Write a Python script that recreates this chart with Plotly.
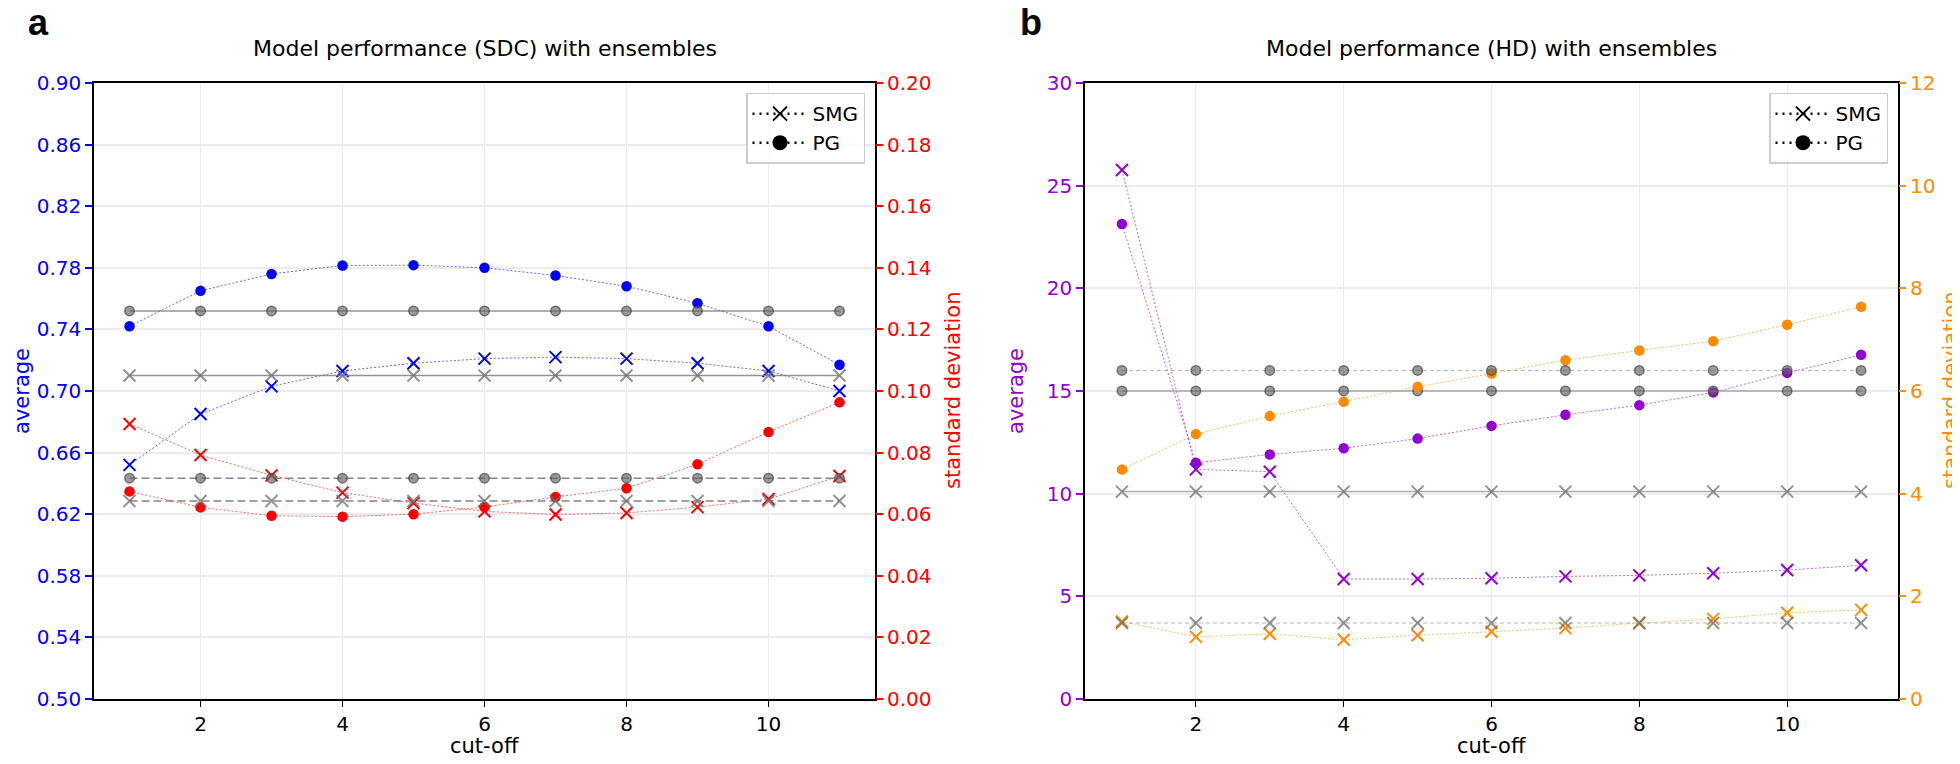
import plotly.graph_objects as go

# cut-off values (x axis, both panels)
cutoff = [1, 2, 3, 4, 5, 6, 7, 8, 9, 10, 11]

# panel a: SDC
sdc_pg_avg = [0.742, 0.765, 0.776, 0.7815, 0.7817, 0.780, 0.775, 0.768, 0.757, 0.742, 0.717]
sdc_smg_avg = [0.652, 0.685, 0.703, 0.713, 0.718, 0.721, 0.722, 0.721, 0.718, 0.713, 0.700]
sdc_pg_std = [0.0674, 0.0622, 0.0595, 0.0592, 0.0600, 0.0623, 0.0656, 0.0684, 0.0762, 0.0867, 0.0963]
sdc_smg_std = [0.0893, 0.0792, 0.0726, 0.0670, 0.0636, 0.0609, 0.0599, 0.0604, 0.0623, 0.0649, 0.0724]
sdc_ref_pg_avg = 0.752
sdc_ref_smg_avg = 0.710
sdc_ref_pg_std = 0.0717
sdc_ref_smg_std = 0.0643

# panel b: HD
hd_pg_avg = [23.13, 11.50, 11.91, 12.21, 12.68, 13.30, 13.84, 14.31, 14.93, 15.88, 16.76]
hd_smg_avg = [25.76, 11.18, 11.07, 5.84, 5.84, 5.88, 5.97, 6.02, 6.12, 6.28, 6.51]
hd_pg_std = [4.47, 5.16, 5.51, 5.79, 6.08, 6.34, 6.60, 6.79, 6.97, 7.29, 7.64]
hd_smg_std = [1.51, 1.21, 1.27, 1.155, 1.24, 1.31, 1.38, 1.48, 1.56, 1.68, 1.735]
hd_ref_pg_avg = 15.0
hd_ref_smg_avg = 10.1
hd_ref_pg_std = 6.4
hd_ref_smg_std = 1.48

FONT = "DejaVu Sans"
W, H = 1960, 764

fig = go.Figure()


def rgba(hexcol, a):
    h = hexcol.lstrip("#")
    r, g, b = int(h[0:2], 16), int(h[2:4], 16), int(h[4:6], 16)
    return f"rgba({r},{g},{b},{a})"


def series(x, y, col, sym, xa, ya):
    if sym == "circle":
        marker = dict(symbol="circle", size=10.5, color=col)
    else:
        marker = dict(symbol="x-thin", size=12, line=dict(color=col, width=2))
    fig.add_trace(go.Scatter(
        x=x, y=y, xaxis=xa, yaxis=ya, mode="lines+markers",
        line=dict(color=rgba(col, 0.6), width=1, dash="2px,2px"),
        marker=marker, showlegend=False, hoverinfo="x+y"
    ))


def ref(x, val, sym, dash, lcol, lw, xa, ya):
    if sym == "circle":
        marker = dict(symbol="circle", size=9.5, color="rgba(100,100,100,0.65)",
                      line=dict(color="rgba(70,70,70,0.7)", width=1.5))
    else:
        marker = dict(symbol="x-thin", size=12, line=dict(color="rgba(110,110,110,0.75)", width=2))
    fig.add_trace(go.Scatter(
        x=x, y=[val] * len(x), xaxis=xa, yaxis=ya, mode="lines+markers",
        line=dict(color=lcol, width=lw, dash=dash),
        marker=marker, showlegend=False, hoverinfo="y"
    ))


# panel a, average (left axis)
series(cutoff, sdc_pg_avg, "#0000ff", "circle", "x", "y")
series(cutoff, sdc_smg_avg, "#0000ff", "x", "x", "y")
ref(cutoff, sdc_ref_pg_avg, "circle", "solid", "rgba(120,120,120,0.8)", 1.5, "x", "y")
ref(cutoff, sdc_ref_smg_avg, "x", "solid", "rgba(120,120,120,0.8)", 1.5, "x", "y")
# panel a, std (right axis)
series(cutoff, sdc_pg_std, "#ff0000", "circle", "x", "y2")
series(cutoff, sdc_smg_std, "#ff0000", "x", "x", "y2")
ref(cutoff, sdc_ref_pg_std, "circle", "8px,4px", "rgba(110,110,110,0.85)", 1.5, "x", "y2")
ref(cutoff, sdc_ref_smg_std, "x", "8px,4px", "rgba(110,110,110,0.85)", 1.5, "x", "y2")

# panel b, average (left axis)
series(cutoff, hd_pg_avg, "#9400d3", "circle", "x2", "y3")
series(cutoff, hd_smg_avg, "#9400d3", "x", "x2", "y3")
ref(cutoff, hd_ref_pg_avg, "circle", "solid", "rgba(140,140,140,0.7)", 1.5, "x2", "y3")
ref(cutoff, hd_ref_smg_avg, "x", "solid", "rgba(140,140,140,0.7)", 1.5, "x2", "y3")
# panel b, std (right axis)
series(cutoff, hd_pg_std, "#ff8c00", "circle", "x2", "y4")
series(cutoff, hd_smg_std, "#ff8c00", "x", "x2", "y4")
ref(cutoff, hd_ref_pg_std, "circle", "4px,3px", "rgba(150,150,150,0.7)", 1, "x2", "y4")
ref(cutoff, hd_ref_smg_std, "x", "4px,3px", "rgba(150,150,150,0.7)", 1, "x2", "y4")

# legend-only entries
for lg, xa, ya in [("legend", "x", "y"), ("legend2", "x2", "y3")]:
    fig.add_trace(go.Scatter(
        x=[None], y=[None], xaxis=xa, yaxis=ya, mode="lines+markers", name="SMG", legend=lg,
        line=dict(color="black", width=2.5, dash="2px,5px"),
        marker=dict(symbol="x-thin", size=14, line=dict(color="black", width=2))
    ))
    fig.add_trace(go.Scatter(
        x=[None], y=[None], xaxis=xa, yaxis=ya, mode="lines+markers", name="PG", legend=lg,
        line=dict(color="black", width=2.5, dash="2px,5px"),
        marker=dict(symbol="circle", size=15, color="black")
    ))

# domains (pixels -> paper)
ax_a = [86 / W, 867 / W]
ax_b = [1077 / W, 1890 / W]
ydom = [1 - 701 / H, 1 - 65 / H]

grid = "#ebebeb"
xcommon = dict(range=[0.5, 11.5], tickvals=[2, 4, 6, 8, 10], ticks="outside", ticklen=6,
               tickcolor="black", showline=True, linecolor="black", linewidth=1.5, mirror=True,
               showgrid=True, gridcolor=grid, gridwidth=1, zeroline=False,
               tickfont=dict(size=20, color="black", family=FONT))


def yleft(rng, dtick, fmt, col):
    return dict(range=rng, tick0=rng[0], dtick=dtick, tickformat=fmt, ticks="outside", ticklen=7,
                tickcolor=col, tickwidth=1.5, showline=True, linecolor="black", linewidth=1.5,
                mirror=True, showgrid=True, gridcolor=grid, gridwidth=1.5, zeroline=False,
                tickfont=dict(size=20, color=col, family=FONT), domain=ydom)


def yright(rng, dtick, fmt, col, over, anchor):
    return dict(range=rng, tick0=rng[0], dtick=dtick, tickformat=fmt, ticks="outside", ticklen=7,
                tickcolor=col, tickwidth=1.5, showline=False, showgrid=False, zeroline=False,
                tickfont=dict(size=20, color=col, family=FONT), overlaying=over, side="right",
                anchor=anchor)


leg = dict(yanchor="top", xanchor="right", bordercolor="#cccccc", borderwidth=1.5,
           bgcolor="rgba(255,255,255,0.85)", font=dict(size=20, family=FONT),
           itemwidth=55, tracegroupgap=0)

fig.update_layout(
    width=W, height=H,
    margin=dict(l=0, r=0, t=0, b=0),
    paper_bgcolor="white", plot_bgcolor="white",
    font=dict(family=FONT, size=20, color="black"),
    xaxis=dict(domain=ax_a, anchor="y", **xcommon),
    xaxis2=dict(domain=ax_b, anchor="y3", **xcommon),
    yaxis=dict(anchor="x", **yleft([0.5, 0.9], 0.04, ".2f", "#0000ff")),
    yaxis2=yright([0, 0.2], 0.02, ".2f", "#ff0000", "y", "x"),
    yaxis3=dict(anchor="x2", **yleft([0, 30], 5, "d", "#9400d3")),
    yaxis4=yright([0, 12], 2, "d", "#ff8c00", "y3", "x2"),
    legend=dict(x=857 / W, y=1 - 75 / H, **leg),
    legend2=dict(x=1880 / W, y=1 - 75 / H, **leg),
)

annots = [
    # panel letters
    dict(text="<b>a</b>", x=18 / W, y=1, xanchor="left", yanchor="top", yshift=20,
         font=dict(size=36, family="Liberation Sans", color="black")),
    dict(text="<b>b</b>", x=1010 / W, y=1, xanchor="left", yanchor="top", yshift=20,
         font=dict(size=36, family="Liberation Sans", color="black")),
    # titles
    dict(text="Model performance (SDC) with ensembles", x=476.5 / W, y=1 - 29 / H,
         xanchor="center", yanchor="middle", font=dict(size=22)),
    dict(text="Model performance (HD) with ensembles", x=1483.5 / W, y=1 - 29 / H,
         xanchor="center", yanchor="middle", font=dict(size=22)),
    # x titles
    dict(text="cut-off", x=476.5 / W, y=1 - 750 / H, xanchor="center", yanchor="middle",
         font=dict(size=21)),
    dict(text="cut-off", x=1483.5 / W, y=1 - 750 / H, xanchor="center", yanchor="middle",
         font=dict(size=21)),
    # y titles
    dict(text="average", x=0, y=1 - 383 / H, textangle=-90, xanchor="left",
         yanchor="middle", font=dict(size=21, color="#0000ff")),
    dict(text="standard deviation", x=945 / W, y=1 - 383 / H, textangle=-90, xanchor="center",
         yanchor="middle", font=dict(size=21, color="#ff0000")),
    dict(text="average", x=1008 / W, y=1 - 383 / H, textangle=-90, xanchor="center",
         yanchor="middle", font=dict(size=21, color="#9400d3")),
    dict(text="standard deviation", x=1943 / W, y=1 - 383 / H, textangle=-90, xanchor="center",
         yanchor="middle", font=dict(size=21, color="#ff8c00")),
]
for a in annots:
    a.update(xref="paper", yref="paper", showarrow=False)
    fig.add_annotation(**a)

fig.write_html("out.html")
